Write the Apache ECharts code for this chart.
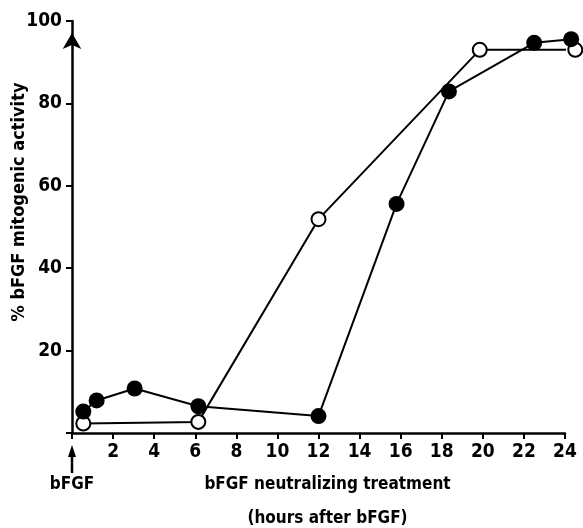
<!DOCTYPE html>
<html><head><meta charset="utf-8">
<script src="https://cdn.jsdelivr.net/npm/echarts@6/dist/echarts.min.js"></script>
<style>html,body{margin:0;padding:0;background:#fff}#c{width:583px;height:528px}</style>
</head><body><div id="c"></div>
<script>
const FONT = '"DejaVu Sans Condensed", "Liberation Sans Narrow", "DejaVu Sans", sans-serif';
// hours after bFGF, % activity
const filledHours = [0.55, 1.2, 3.05, 6.15, 12.0, 15.8, 18.35, 22.5, 24.3];
const filledActivity = [5.2, 7.9, 10.8, 6.5, 4.1, 55.6, 82.9, 94.7, 95.6];
const openHours = [0.55, 6.15, 12.0, 19.85, 24.5];
const openActivity = [2.3, 2.7, 51.9, 93.0, 93.0];
const xTicks = [2, 4, 6, 8, 10, 12, 14, 16, 18, 20, 22, 24];
const yTicks = [20, 40, 60, 80, 100];

const pair = (xs, ys) => xs.map((x, i) => [x, ys[i]]);
const chart = echarts.init(document.getElementById('c'));
const txt = {color: '#000', fontFamily: FONT, fontWeight: 'bold'};
chart.setOption({
  animation: false,
  backgroundColor: '#fff',
  grid: {left: 72, right: 18, top: 21, bottom: 95, outerBoundsMode: 'none', containLabel: false},
  xAxis: {
    type: 'value', min: 0, max: 24, interval: 2,
    name: 'bFGF neutralizing treatment\n(hours after bFGF)',
    nameLocation: 'middle', nameGap: 35, nameMoveOverlap: false,
    nameTextStyle: Object.assign({fontSize: 17, lineHeight: 34, padding: [0, 0, 0, 18]}, txt),
    axisLine: {lineStyle: {color: '#000', width: 2.5}},
    axisTick: {show: true, length: 6, lineStyle: {color: '#000', width: 2}},
    axisLabel: Object.assign({fontSize: 19, margin: 10,
      formatter: v => xTicks.includes(v) ? String(v) : ''}, txt),
    splitLine: {show: false}
  },
  yAxis: {
    type: 'value', min: 0, max: 100, interval: 20,
    name: '% bFGF mitogenic activity',
    nameLocation: 'middle', nameGap: 44, nameMoveOverlap: false,
    nameTextStyle: Object.assign({fontSize: 18, padding: [0, 0, 0, 50]}, txt),
    axisLine: {lineStyle: {color: '#000', width: 2.5}, symbol: ['none', 'arrow'], symbolSize: [14, 16], symbolOffset: [0, -12]},
    axisTick: {show: true, length: 6, lineStyle: {color: '#000', width: 2}},
    axisLabel: Object.assign({fontSize: 19, margin: 10,
      formatter: v => yTicks.includes(v) ? String(v) : ''}, txt),
    splitLine: {show: false}
  },
  series: [
    {type: 'line', data: pair(openHours, openActivity), clip: false,
     symbol: 'circle', symbolSize: 14,
     itemStyle: {color: '#fff', borderColor: '#000', borderWidth: 2},
     lineStyle: {color: '#000', width: 2}, z: 2},
    {type: 'line', data: pair(filledHours, filledActivity), clip: false,
     symbol: 'circle', symbolSize: 16,
     itemStyle: {color: '#000', borderColor: '#000', borderWidth: 0},
     lineStyle: {color: '#000', width: 2}, z: 3}
  ]
});
// bFGF addition marker at time 0, below the axis
const p0 = chart.convertToPixel({gridIndex: 0}, [0, 0]);
chart.setOption({graphic: [
  {type: 'line', shape: {x1: p0[0], y1: p0[1] + 20, x2: p0[0], y2: p0[1] + 40}, style: {stroke: '#000', lineWidth: 2.5}},
  {type: 'polygon', shape: {points: [[p0[0], p0[1] + 12], [p0[0] - 4, p0[1] + 24], [p0[0] + 4, p0[1] + 24]]}, style: {fill: '#000'}},
  {type: 'text', x: p0[0], y: p0[1] + 52, style: Object.assign({text: 'bFGF', fontSize: 17, align: 'center', verticalAlign: 'middle', fill: '#000', fontFamily: FONT, fontWeight: 'bold'})}
]});
</script></body></html>
